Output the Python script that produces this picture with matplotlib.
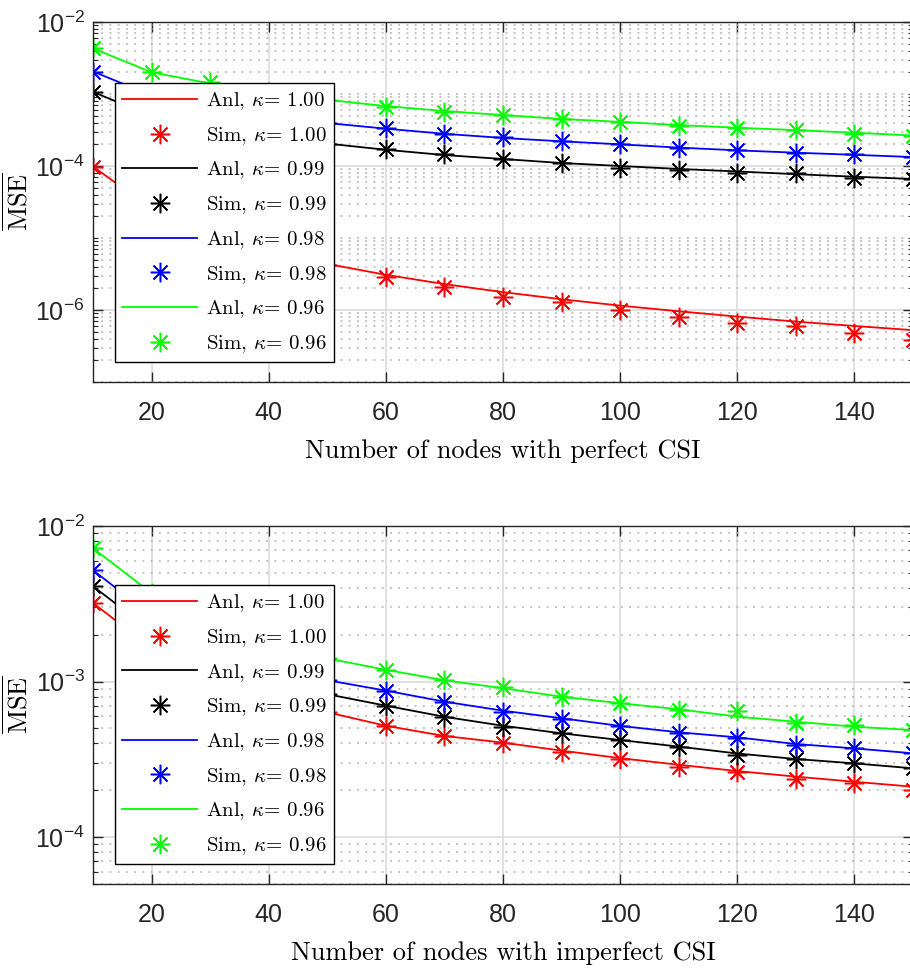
import numpy as np
import matplotlib
matplotlib.use('Agg')
import matplotlib.pyplot as plt
from matplotlib.ticker import FixedLocator, FixedFormatter, LogLocator, NullFormatter

plt.rcParams['font.family'] = ['Liberation Sans', 'DejaVu Sans']
plt.rcParams['mathtext.fontset'] = 'custom'
plt.rcParams['mathtext.rm'] = 'Liberation Sans'
plt.rcParams['mathtext.it'] = 'Liberation Sans:italic'
plt.rcParams['axes.unicode_minus'] = False

# data
nodes = [10, 20, 30, 40, 50, 60, 70, 80, 90, 100, 110, 120, 130, 140, 150]
kappas = ['1.00', '0.99', '0.98', '0.96']
colors = ['#ff0000', '#000000', '#0000ff', '#00ff00']

# perfect CSI
anl_p_100 = [9.8e-5, 2.57e-5, 1.17e-5, 6.7e-6, 4.37e-6, 3.08e-6, 2.29e-6, 1.77e-6, 1.41e-6, 1.15e-6, 9.6e-7, 8.1e-7, 6.9e-7, 6.0e-7, 5.25e-7]
sim_p_100 = [9.8e-5, 2.6e-5, 1.15e-5, 6.5e-6, 4.2e-6, 2.9e-6, 2.1e-6, 1.5e-6, 1.29e-6, 1.0e-6, 8.1e-7, 6.6e-7, 5.9e-7, 4.8e-7, 3.8e-7]
anl_p_099 = [1.07e-3, 4.9e-4, 3.4e-4, 2.6e-4, 2.05e-4, 1.68e-4, 1.42e-4, 1.25e-4, 1.1e-4, 1.0e-4, 9.1e-5, 8.4e-5, 7.7e-5, 7.1e-5, 6.6e-5]
sim_p_099 = [1.08e-3, 4.9e-4, 3.4e-4, 2.6e-4, 2.0e-4, 1.73e-4, 1.47e-4, 1.26e-4, 1.1e-4, 9.5e-5, 8.9e-5, 8.1e-5, 7.9e-5, 6.8e-5, 6.5e-5]
anl_p_098 = [2.05e-3, 9.6e-4, 6.7e-4, 5.0e-4, 3.95e-4, 3.3e-4, 2.8e-4, 2.45e-4, 2.2e-4, 2.0e-4, 1.8e-4, 1.65e-4, 1.53e-4, 1.43e-4, 1.33e-4]
sim_p_098 = [2.04e-3, 9.5e-4, 6.7e-4, 5.0e-4, 3.9e-4, 3.4e-4, 2.8e-4, 2.5e-4, 2.24e-4, 2.0e-4, 1.8e-4, 1.66e-4, 1.53e-4, 1.46e-4, 1.35e-4]
anl_p_096 = [4.3e-3, 2.0e-3, 1.4e-3, 1.05e-3, 8.3e-4, 6.8e-4, 5.8e-4, 5.1e-4, 4.5e-4, 4.1e-4, 3.7e-4, 3.4e-4, 3.15e-4, 2.9e-4, 2.65e-4]
sim_p_096 = [4.3e-3, 2.0e-3, 1.47e-3, 1.07e-3, 8.3e-4, 6.7e-4, 5.7e-4, 5.1e-4, 4.5e-4, 4.1e-4, 3.6e-4, 3.35e-4, 3.15e-4, 2.75e-4, 2.6e-4]

# imperfect CSI
anl_i_100 = [3.2e-3, 1.64e-3, 1.12e-3, 8.3e-4, 6.35e-4, 5.2e-4, 4.47e-4, 4.05e-4, 3.6e-4, 3.22e-4, 2.92e-4, 2.66e-4, 2.45e-4, 2.27e-4, 2.11e-4]
sim_i_100 = [3.2e-3, 1.64e-3, 1.12e-3, 8.3e-4, 6.35e-4, 5.2e-4, 4.47e-4, 4.01e-4, 3.54e-4, 3.17e-4, 2.84e-4, 2.64e-4, 2.36e-4, 2.22e-4, 2.0e-4]
anl_i_099 = [4.1e-3, 2.11e-3, 1.44e-3, 1.07e-3, 8.3e-4, 7.0e-4, 5.94e-4, 5.2e-4, 4.65e-4, 4.21e-4, 3.82e-4, 3.45e-4, 3.18e-4, 2.98e-4, 2.77e-4]
sim_i_099 = [4.1e-3, 2.1e-3, 1.44e-3, 1.07e-3, 8.3e-4, 7.0e-4, 5.94e-4, 5.13e-4, 4.65e-4, 4.21e-4, 3.82e-4, 3.38e-4, 3.16e-4, 2.98e-4, 2.8e-4]
anl_i_098 = [5.2e-3, 2.65e-3, 1.8e-3, 1.34e-3, 1.02e-3, 8.75e-4, 7.43e-4, 6.5e-4, 5.81e-4, 5.19e-4, 4.72e-4, 4.38e-4, 3.97e-4, 3.72e-4, 3.46e-4]
sim_i_098 = [5.2e-3, 2.65e-3, 1.8e-3, 1.34e-3, 1.02e-3, 8.75e-4, 7.4e-4, 6.41e-4, 5.73e-4, 5.19e-4, 4.66e-4, 4.32e-4, 3.92e-4, 3.72e-4, 3.5e-4]
anl_i_096 = [7.2e-3, 3.7e-3, 2.5e-3, 1.85e-3, 1.41e-3, 1.19e-3, 1.02e-3, 9.06e-4, 8.0e-4, 7.26e-4, 6.64e-4, 5.95e-4, 5.52e-4, 5.13e-4, 4.88e-4]
sim_i_096 = [7.2e-3, 3.7e-3, 2.5e-3, 1.85e-3, 1.41e-3, 1.19e-3, 1.02e-3, 9.27e-4, 8.0e-4, 7.3e-4, 6.6e-4, 6.45e-4, 5.45e-4, 5.26e-4, 4.9e-4]

xticks = [20, 40, 60, 80, 100, 120, 140]
top_yexp = [-6, -4, -2]
bot_yexp = [-4, -3, -2]
xlabels = ['Number of nodes with perfect CSI', 'Number of nodes with imperfect CSI']

fig = plt.figure(figsize=(9.1, 9.72), dpi=100)
ax1 = fig.add_axes([93/910, 1-382/972, 820/910, 360/972])
ax2 = fig.add_axes([93/910, 1-884/972, 820/910, 358/972])

panels = [
    (ax1, [anl_p_100, anl_p_099, anl_p_098, anl_p_096], [sim_p_100, sim_p_099, sim_p_098, sim_p_096], (1e-7, 1e-2), top_yexp, 0.8306),
    (ax2, [anl_i_100, anl_i_099, anl_i_098, anl_i_096], [sim_i_100, sim_i_099, sim_i_098, sim_i_096], (5e-5, 1e-2), bot_yexp, 0.835),
]

ast = (8, 2, 0)  # plus + cross, like matlab '*'
for k, (ax, anl, sim, ylim, yexp, legtop) in enumerate(panels):
    for j in range(4):
        ax.semilogy(nodes, anl[j], '-', color=colors[j], lw=1.3,
                    label=r'Anl, $\kappa$= ' + kappas[j])
        ax.semilogy(nodes, sim[j], ls='none', marker=ast, ms=14, mew=1.1,
                    color=colors[j], label=r'Sim, $\kappa$= ' + kappas[j])
    ax.set_xlim(10, 150)
    ax.set_ylim(*ylim)
    ax.xaxis.set_major_locator(FixedLocator(xticks))
    ax.set_xticklabels([str(t) for t in xticks])
    ax.yaxis.set_major_locator(FixedLocator([10.0**e for e in yexp]))
    ax.yaxis.set_major_formatter(FixedFormatter([r'$\mathregular{10^{%d}}$' % e for e in yexp]))
    ax.yaxis.set_minor_locator(LogLocator(base=10, subs=np.arange(1, 10), numticks=30))
    ax.yaxis.set_minor_formatter(NullFormatter())
    ax.grid(True, which='major', color='#dcdcdc', lw=1.2, ls='-')
    ax.grid(True, which='minor', axis='y', color='#b0b0b0', lw=1.1, ls=(0, (1.2, 4.2)))
    ax.set_axisbelow(True)
    ax.tick_params(which='both', direction='in', top=True, right=True,
                   color='#262626', labelcolor='#262626', labelsize=18)
    ax.tick_params(which='major', length=7, width=1)
    ax.tick_params(which='minor', length=3.5, width=0.8)
    ax.tick_params(axis='x', pad=14)
    ax.tick_params(axis='y', pad=6)
    for s in ax.spines.values():
        s.set_color('#262626')
        s.set_linewidth(1.0)
    ax.set_xlabel(xlabels[k], family='cmr10', fontsize=19, labelpad=10)
    ax.set_ylabel(r'$\overline{\mathrm{MSE}}$', fontsize=19, math_fontfamily='cm', labelpad=2)
    leg = ax.legend(loc='upper left', bbox_to_anchor=(0.0268, legtop), borderaxespad=0,
                    fancybox=False, framealpha=1, edgecolor='black',
                    prop={'family': 'cmr10', 'size': 15},
                    handlelength=3.6, handletextpad=0.4, labelspacing=0.62,
                    borderpad=0.35, markerscale=1.0)
    leg.get_frame().set_linewidth(1.0)
    for t in leg.get_texts():
        t.set_math_fontfamily('cm')

fig.savefig('out.png', dpi=100)
